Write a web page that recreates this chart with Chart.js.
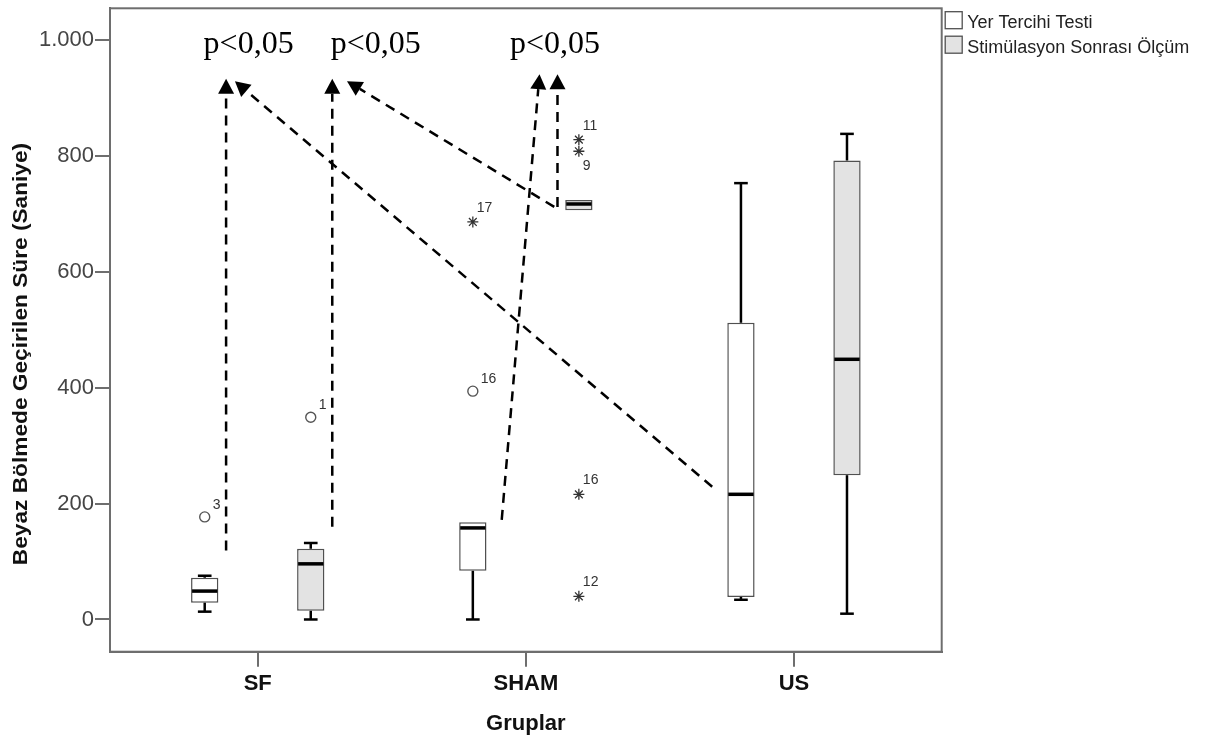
<!DOCTYPE html>
<html>
<head>
<meta charset="utf-8">
<script src="https://cdn.jsdelivr.net/npm/chart.js@4.4.1/dist/chart.umd.min.js"></script>
<style>
html,body{margin:0;padding:0;background:#ffffff;}
#wrap{width:1211px;height:740px;position:relative;}
</style>
</head>
<body>
<div id="wrap"><canvas id="c" width="1211" height="740"></canvas></div>
<script>
// ---------------- DATA ----------------
const categories = ['SF', 'SHAM', 'US'];
const seriesNames = ['Yer Tercihi Testi', 'Stimülasyon Sonrası Ölçüm'];

// Yer Tercihi Testi box statistics (per category)
const yerMin    = [13.5, 0, 34];
const yerQ1     = [29, 84, 39];
const yerMedian = [49, 158, 216];
const yerQ3     = [72, 168, 512];
const yerMax    = [75.5, 168, 753];

// Stimülasyon Sonrası Ölçüm box statistics (per category)
const stimMin    = [0, 706, 10];
const stimQ1     = [15, 706, 249];
const stimMedian = [96, 717, 449];
const stimQ3     = [122, 724, 792];
const stimMax    = [132, 724, 838];

// Outliers
const outlierCategory = ['SF', 'SF', 'SHAM', 'SHAM', 'SHAM', 'SHAM', 'SHAM', 'SHAM'];
const outlierSeries   = [0, 1, 0, 0, 1, 1, 1, 1];
const outlierValue    = [177, 349, 394, 686, 828, 808, 216, 40];
const outlierKind     = ['circle', 'circle', 'circle', 'star', 'star', 'star', 'star', 'star'];
const outlierId       = ['3', '1', '16', '17', '11', '9', '16', '12'];
const outlierLabelBelow = [false, false, false, false, false, true, false, false];

// Axis ticks
const yTicks = [0, 200, 400, 600, 800, 1000];
const yTickLabels = ['0', '200', '400', '600', '800', '1.000'];

// Annotations (data coordinates: x in category units, y in seconds)
const pText = 'p<0,05';
const pTextX = [0.966, 1.44, 2.109];
const pTextY = [977, 977, 977];
const arrowStartX = [0.882, 2.695, 1.278, 2.106, 1.910, 2.118];
const arrowStartY = [119, 229, 160, 712, 172, 712];
const arrowTipX   = [0.882, 0.915, 1.278, 1.333, 2.051, 2.118];
const arrowTipY   = [933, 929, 933, 929, 941, 941];

// ---------------- BUILD ----------------
const CAT_PCT = 0.791;
const BAR_PCT = 0.2575;
const DODGE = CAT_PCT / 4;
const FONT = '"Liberation Sans", Arial, Helvetica, sans-serif';
Chart.defaults.font.family = FONT;

const boxStats = [
  {min: yerMin, q1: yerQ1, med: yerMedian, q3: yerQ3, max: yerMax},
  {min: stimMin, q1: stimQ1, med: stimMedian, q3: stimQ3, max: stimMax}
];
const boxFill = ['#ffffff', '#e3e3e3'];

function boxData(s) {
  return categories.map((c, i) => ({x: i + 1, y: [s.q1[i], s.q3[i]]}));
}
function outlierPoints(kind) {
  const pts = [];
  outlierValue.forEach((v, i) => {
    if (outlierKind[i] !== kind) return;
    const ci = categories.indexOf(outlierCategory[i]);
    pts.push({x: ci + 1 + (outlierSeries[i] === 0 ? -DODGE : DODGE), y: v, id: outlierId[i], below: outlierLabelBelow[i]});
  });
  return pts;
}

const datasets = [0, 1].map(k => ({
  type: 'bar',
  label: seriesNames[k],
  data: boxData(boxStats[k]),
  backgroundColor: boxFill[k],
  borderColor: '#505050',
  borderWidth: 1.5,
  borderSkipped: false,
  categoryPercentage: CAT_PCT,
  barPercentage: BAR_PCT
}));
datasets.push({
  type: 'scatter', label: 'o', data: outlierPoints('circle'),
  pointStyle: 'circle', pointRadius: 5, borderColor: '#555', backgroundColor: '#ffffff', borderWidth: 1.4
});
datasets.push({
  type: 'scatter', label: '*', data: outlierPoints('star'),
  pointStyle: 'star', pointRadius: 5.5, borderColor: '#333', backgroundColor: '#333', borderWidth: 1.3
});

// --------------- PLUGINS ---------------
const boxPlugin = {
  id: 'boxWhiskers',
  afterDatasetsDraw(chart) {
    const ctx = chart.ctx, ys = chart.scales.y;
    ctx.save();
    [0, 1].forEach(d => {
      const meta = chart.getDatasetMeta(d);
      const s = boxStats[d];
      meta.data.forEach((el, i) => {
        const x = el.x, w = el.width, cw = w * 0.5;
        ctx.strokeStyle = '#000';
        ctx.lineWidth = 2.5;
        ctx.lineCap = 'butt';
        if (s.min[i] < s.q1[i]) {
          const a = ys.getPixelForValue(s.q1[i]), b = ys.getPixelForValue(s.min[i]);
          ctx.beginPath(); ctx.moveTo(x, a); ctx.lineTo(x, b); ctx.stroke();
          ctx.beginPath(); ctx.moveTo(x - cw / 2, b); ctx.lineTo(x + cw / 2, b); ctx.stroke();
        }
        if (s.max[i] > s.q3[i]) {
          const a = ys.getPixelForValue(s.q3[i]), b = ys.getPixelForValue(s.max[i]);
          ctx.beginPath(); ctx.moveTo(x, a); ctx.lineTo(x, b); ctx.stroke();
          ctx.beginPath(); ctx.moveTo(x - cw / 2, b); ctx.lineTo(x + cw / 2, b); ctx.stroke();
        }
        const m = ys.getPixelForValue(s.med[i]);
        ctx.lineWidth = 3.5;
        ctx.beginPath(); ctx.moveTo(x - w / 2 + 1, m); ctx.lineTo(x + w / 2 - 1, m); ctx.stroke();
      });
    });
    // outlier labels
    [2, 3].forEach(d => {
      const meta = chart.getDatasetMeta(d);
      const isCircle = d === 2;
      ctx.fillStyle = '#333';
      ctx.font = '14px ' + FONT;
      ctx.textAlign = 'left';
      ctx.textBaseline = 'middle';
      meta.data.forEach((el, i) => {
        const p = chart.data.datasets[d].data[i];
        const dx = isCircle ? 8 : 4;
        const dy = p.below ? 15 : (isCircle ? -12 : -14);
        ctx.fillText(p.id, el.x + dx, el.y + dy);
      });
    });
    ctx.restore();
  }
};

const annotationPlugin = {
  id: 'pArrows',
  afterDatasetsDraw(chart) {
    const ctx = chart.ctx, xs = chart.scales.x, ys = chart.scales.y;
    ctx.save();
    ctx.fillStyle = '#000';
    ctx.font = '32px "Liberation Serif", "Times New Roman", serif';
    ctx.textAlign = 'center';
    ctx.textBaseline = 'alphabetic';
    pTextX.forEach((v, i) => ctx.fillText(pText, xs.getPixelForValue(v), ys.getPixelForValue(pTextY[i])));
    arrowStartX.forEach((v, i) => {
      const x1 = xs.getPixelForValue(v), y1 = ys.getPixelForValue(arrowStartY[i]);
      const x2 = xs.getPixelForValue(arrowTipX[i]), y2 = ys.getPixelForValue(arrowTipY[i]);
      const dx = x2 - x1, dy = y2 - y1, len = Math.hypot(dx, dy);
      const ux = dx / len, uy = dy / len;
      const head = 15, hw = 8;
      const bx = x2 - ux * head, by = y2 - uy * head;
      ctx.strokeStyle = '#000';
      ctx.lineWidth = 2.5;
      ctx.setLineDash([10, 7]);
      ctx.beginPath(); ctx.moveTo(x1, y1); ctx.lineTo(bx, by); ctx.stroke();
      ctx.setLineDash([]);
      ctx.beginPath();
      ctx.moveTo(x2, y2);
      ctx.lineTo(bx - uy * hw, by + ux * hw);
      ctx.lineTo(bx + uy * hw, by - ux * hw);
      ctx.closePath();
      ctx.fill();
    });
    ctx.restore();
  }
};

const framePlugin = {
  id: 'frameLegendTitle',
  afterDraw(chart) {
    const ctx = chart.ctx, a = chart.chartArea;
    ctx.save();
    ctx.strokeStyle = '#6e6e6e';
    ctx.lineWidth = 2;
    ctx.strokeRect(a.left, a.top, a.right - a.left, a.bottom - a.top);
    // legend
    const lx = a.right + 3.5, ly = 11.7, step = 24.5, sq = 17;
    ctx.font = '18px ' + FONT;
    ctx.textAlign = 'left';
    ctx.textBaseline = 'alphabetic';
    [0, 1].forEach(k => {
      const ds = chart.data.datasets[k];
      const y = ly + k * step;
      ctx.fillStyle = ds.backgroundColor;
      ctx.fillRect(lx, y, sq, sq);
      ctx.strokeStyle = '#505050';
      ctx.lineWidth = 1.3;
      ctx.strokeRect(lx, y, sq, sq);
      ctx.fillStyle = '#222';
      ctx.fillText(ds.label, lx + 22, y + 16.6);
    });
    // y-axis title (centred slightly below the axis middle, as in the original)
    ctx.translate(27.3, 354);
    ctx.rotate(-Math.PI / 2);
    ctx.scale(1.08, 1);
    ctx.font = 'bold 21px ' + FONT;
    ctx.fillStyle = '#111';
    ctx.textAlign = 'center';
    ctx.fillText('Beyaz Bölmede Geçirilen Süre (Saniye)', 0, 0);
    ctx.restore();
  }
};

new Chart(document.getElementById('c'), {
  type: 'bar',
  data: {datasets},
  options: {
    responsive: false,
    animation: false,
    devicePixelRatio: 1,
    layout: {padding: {left: 0, top: 8.3, right: 269.3, bottom: 0}},
    plugins: {legend: {display: false}, tooltip: {enabled: false}},
    scales: {
      x: {
        type: 'linear', min: 0.449, max: 3.551, offset: false,
        grid: {display: true, offset: false, drawOnChartArea: false, drawTicks: true, tickLength: 15, color: '#6e6e6e', lineWidth: 2},
        border: {display: true, color: '#6e6e6e', width: 2},
        afterBuildTicks: s => { s.ticks = categories.map((c, i) => ({value: i + 1})); },
        afterFit: s => { s.height = 88.3; s.paddingLeft = 0; s.paddingRight = 0; },
        ticks: {
          autoSkip: false, maxRotation: 0, padding: 4, color: '#111',
          font: {size: 22, weight: 'bold'},
          callback: (v, i) => categories[i]
        },
        title: {display: true, text: 'Gruplar', color: '#111', font: {size: 22, weight: 'bold'}, padding: {top: 0, bottom: 3}}
      },
      y: {
        type: 'linear', min: -55.6, max: 1054.7,
        grid: {display: true, drawOnChartArea: false, drawTicks: true, tickLength: 15, color: '#6e6e6e', lineWidth: 2},
        border: {display: true, color: '#6e6e6e', width: 2},
        afterBuildTicks: s => { s.ticks = yTicks.map(v => ({value: v})); },
        afterFit: s => { s.width = 110; s.paddingTop = 0; s.paddingBottom = 0; },
        ticks: {
          autoSkip: false, padding: 1, color: '#454545',
          font: {size: 22},
          callback: (v, i) => yTickLabels[i]
        }
      }
    }
  },
  plugins: [boxPlugin, annotationPlugin, framePlugin]
});
</script>
</body>
</html>
